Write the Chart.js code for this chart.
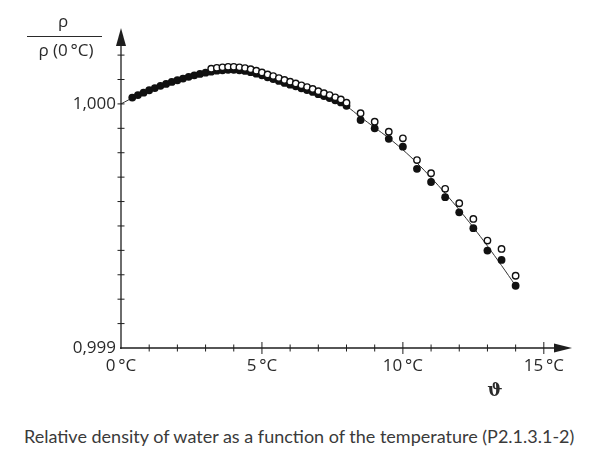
<!DOCTYPE html>
<html>
<head>
<meta charset="utf-8">
<script src="https://cdn.jsdelivr.net/npm/chart.js@4.4.1/dist/chart.umd.min.js"></script>
<style>
  html, body { margin: 0; padding: 0; background: #fff; }
  #wrap { position: relative; width: 600px; height: 459px; overflow: hidden; }
  #box { position: absolute; left: 0; top: 0; width: 600px; height: 410px; }
  #caption { position: absolute; left: 24px; top: 425px; font-family: Lato, "Open Sans", sans-serif; font-size: 18px; color: #3a3a3a; white-space: nowrap; }
</style>
</head>
<body>
<div id="wrap">
  <div id="box"><canvas id="c"></canvas></div>
  <div id="caption">Relative density of water as a function of the temperature (P2.1.3.1-2)</div>
</div>
<script>
// ---- data (temperature in °C, relative density ρ/ρ(0 °C)) ----
const denseTemps = [0.4,0.6,0.8,1.0,1.2,1.4,1.6,1.8,2.0,2.2,2.4,2.6,2.8,3.0,3.2,3.4,3.6,3.8,4.0,4.2,4.4,4.6,4.8,5.0,5.2,5.4,5.6,5.8,6.0,6.2,6.4,6.6,6.8,7.0,7.2,7.4,7.6,7.8,8.0];
const filledDense = [1.000026,1.000036,1.000046,1.000056,1.000065,1.000074,1.000082,1.000090,1.000097,1.000104,1.000111,1.000117,1.000123,1.000128,1.000132,1.000136,1.000138,1.000140,1.000140,1.000138,1.000135,1.000130,1.000124,1.000117,1.000109,1.000102,1.000094,1.000086,1.000079,1.000072,1.000064,1.000057,1.000049,1.000040,1.000032,1.000024,1.000015,1.000006,0.999992];
const openDenseTemps = [3.2,3.4,3.6,3.8,4.0,4.2,4.4,4.6,4.8,5.0,5.2,5.4,5.6,5.8,6.0,6.2,6.4,6.6,6.8,7.0,7.2,7.4,7.6,7.8,8.0];
const openDense = [1.000144,1.000148,1.000150,1.000152,1.000152,1.000150,1.000147,1.000142,1.000136,1.000129,1.000121,1.000114,1.000106,1.000098,1.000091,1.000084,1.000076,1.000069,1.000061,1.000052,1.000044,1.000036,1.000027,1.000018,1.000005];
const sparseTemps = [8.5,9.0,9.5,10.0,10.5,11.0,11.5,12.0,12.5,13.0,13.5,14.0];
const filledSparse = [0.999934,0.999900,0.999857,0.999825,0.999734,0.999680,0.999618,0.999556,0.999491,0.999399,0.999361,0.999255];
const openSparse = [0.999962,0.999927,0.999886,0.999859,0.999770,0.999716,0.999652,0.999593,0.999529,0.999440,0.999406,0.999296];
const fitTemps = [0,0.5,1.0,1.5,2.0,2.5,3.0,3.5,4.0,4.5,5.0,5.5,6.0,6.5,7.0,7.5,8.0,8.5,9.0,9.5,10.0,10.5,11.0,11.5,12.0,12.5,13.0,13.5,14.0];
const fitValues = [1.000000,1.000030,1.000056,1.000078,1.000097,1.000114,1.000128,1.000137,1.000140,1.000133,1.000117,1.000098,1.000079,1.000060,1.000040,1.000019,0.999990,0.999946,0.999903,0.999860,0.999812,0.999758,0.999698,0.999634,0.999566,0.999494,0.999418,0.999338,0.999255];
const xTickLabels = {0: '0\u2009\u00B0C', 5: '5\u2009\u00B0C', 10: '10\u2009\u00B0C', 15: '15\u2009\u00B0C'};
const yTickLabels = [[0.999, '0,999'], [1.000, '1,000']];
const yTitleTop = '\u03C1';
const yTitleBottom = '\u03C1 (0\u2009\u00B0C)';
const xTitle = '\u03D1';

const pts = (xs, ys) => xs.map((x, i) => ({x: x, y: ys[i]}));
const ink = '#1e1e1e';
const font = '"Open Sans", "DejaVu Sans", sans-serif';

const axesPlugin = {
  id: 'axesDeco',
  afterDatasetsDraw(chart) {
    const ctx = chart.ctx;
    const xs = chart.scales.x, ys = chart.scales.y;
    const x0 = xs.getPixelForValue(0);
    const yb = ys.getPixelForValue(0.999);
    const top = chart.chartArea.top, right = chart.chartArea.right;
    ctx.save();
    ctx.strokeStyle = ink; ctx.fillStyle = ink; ctx.lineWidth = 1.3;
    ctx.beginPath(); ctx.moveTo(x0, yb + 1); ctx.lineTo(x0, top + 10); ctx.stroke();
    ctx.beginPath(); ctx.moveTo(x0 - 1, yb); ctx.lineTo(right - 10, yb); ctx.stroke();
    ctx.beginPath(); ctx.moveTo(x0, top); ctx.lineTo(x0 - 5, top + 18); ctx.lineTo(x0 + 5, top + 18); ctx.closePath(); ctx.fill();
    ctx.beginPath(); ctx.moveTo(right, yb); ctx.lineTo(right - 18, yb - 4.5); ctx.lineTo(right - 18, yb + 4.5); ctx.closePath(); ctx.fill();
    ctx.lineWidth = 1;
    xs.ticks.forEach(t => {
      const v = t.value; if (v <= 0 || v > 15.01) return;
      const p = xs.getPixelForValue(v); const h = (Math.abs(v % 5) < 1e-9) ? 6 : 3.5;
      ctx.beginPath(); ctx.moveTo(p, yb - h); ctx.lineTo(p, yb + h); ctx.stroke();
    });
    ys.ticks.forEach(t => {
      const v = t.value; if (v <= 0.99905 || v > 1.00031) return;
      const p = ys.getPixelForValue(v);
      ctx.beginPath(); ctx.moveTo(x0 - 3.5, p); ctx.lineTo(x0 + 3.5, p); ctx.stroke();
    });
    ctx.font = '17px ' + font; ctx.textAlign = 'center'; ctx.textBaseline = 'alphabetic';
    ctx.fillStyle = '#2a2a2a';
    ctx.fillText(yTitleTop, 63, 27);
    ctx.fillText(yTitleBottom, 66, 56);
    ctx.lineWidth = 1.2; ctx.strokeStyle = '#2a2a2a';
    ctx.beginPath(); ctx.moveTo(27, 36.5); ctx.lineTo(102, 36.5); ctx.stroke();
    ctx.font = 'bold 18px "DejaVu Serif", serif';
    ctx.fillText(xTitle, 495, 396);
    ctx.restore();
  }
};

new Chart(document.getElementById('c'), {
  type: 'scatter',
  data: {
    datasets: [
      { label: 'open', data: pts(openDenseTemps, openDense).concat(pts(sparseTemps, openSparse)), order: 1,
        pointStyle: 'circle', pointRadius: 3.2, pointBorderWidth: 1.4, pointBackgroundColor: '#ffffff', pointBorderColor: '#111', showLine: false },
      { label: 'filled', data: pts(denseTemps, filledDense).concat(pts(sparseTemps, filledSparse)), order: 2,
        pointStyle: 'circle', pointRadius: 3.9, pointBorderWidth: 0, pointBackgroundColor: '#111', pointBorderColor: '#111', showLine: false },
      { label: 'fit', data: pts(fitTemps, fitValues), order: 3, showLine: true, tension: 0.4,
        borderColor: '#333', borderWidth: 1, pointRadius: 0, fill: false }
    ]
  },
  options: {
    responsive: true, maintainAspectRatio: false, animation: false,
    layout: { padding: { left: 0, right: 28, top: 28, bottom: 22 } },
    plugins: { legend: { display: false }, tooltip: { enabled: false } },
    scales: {
      x: {
        type: 'linear', min: 0, max: 16,
        afterFit(s) { s.height = 40; },
        grid: { display: false, drawTicks: false }, border: { display: false },
        ticks: { stepSize: 1, autoSkip: false, maxRotation: 0, padding: 8, color: '#2a2a2a',
          font: { family: font, size: 17 },
          callback: v => xTickLabels[v] !== undefined ? xTickLabels[v] : '' }
      },
      y: {
        type: 'linear', min: 0.999, max: 1.000311,
        afterFit(s) { s.width = 121; },
        grid: { display: false, drawTicks: false }, border: { display: false },
        ticks: { stepSize: 0.0001, autoSkip: false, padding: 5, color: '#2a2a2a',
          font: { family: font, size: 17 },
          callback: v => { const f = yTickLabels.find(e => Math.abs(e[0] - v) < 1e-9); return f ? f[1] : ''; } }
      }
    }
  },
  plugins: [axesPlugin]
});
</script>
</body>
</html>
